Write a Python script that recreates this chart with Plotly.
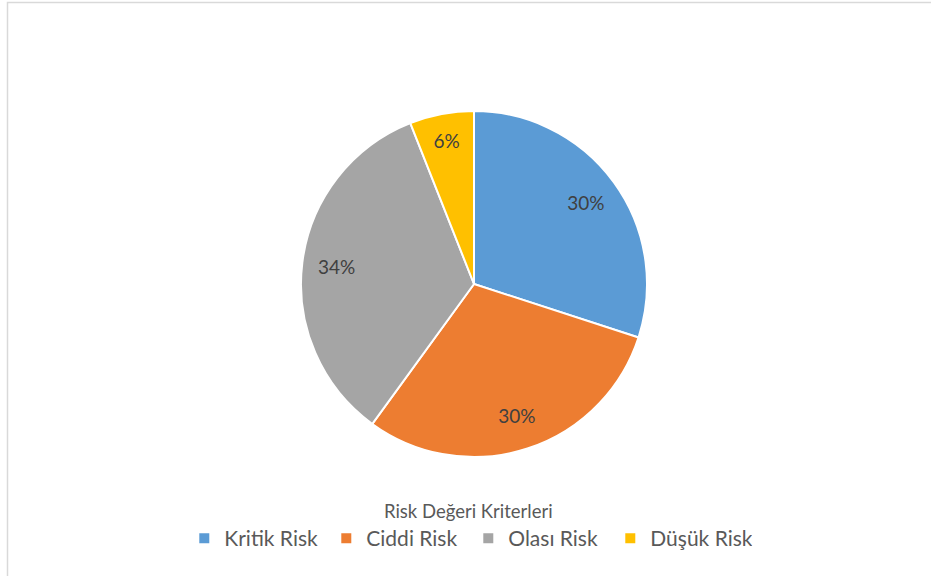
import plotly.graph_objects as go

categories = ["Kritik Risk", "Ciddi Risk", "Olası Risk", "Düşük Risk"]
values = [30, 30, 34, 6]
colors = ["#5B9BD5", "#ED7D31", "#A5A5A5", "#FFC000"]
legend_title = "Risk Değeri Kriterleri"

W, H = 931, 576
cx, cy, R = 474, 284, 173
dom = dict(x=[(cx - R) / W, (cx + R) / W], y=[1 - (cy + R) / H, 1 - (cy - R) / H])
FONT = "Lato, Open Sans, sans-serif"

fig = go.Figure()
fig.add_trace(go.Pie(
    labels=categories,
    values=values,
    sort=False,
    direction="clockwise",
    rotation=0,
    marker=dict(colors=colors, line=dict(color="white", width=2)),
    textinfo="none",
    domain=dom,
    hoverinfo="label+percent",
))
# transparent ring carrying the percentage labels further out, like the original
fig.add_trace(go.Pie(
    labels=categories,
    values=values,
    sort=False,
    direction="clockwise",
    rotation=0,
    hole=0.6,
    marker=dict(colors=["rgba(0,0,0,0)"] * len(values), line=dict(width=0)),
    texttemplate="%{percent:.0%}",
    textposition="inside",
    insidetextorientation="horizontal",
    textfont=dict(family=FONT, size=19, color="#404040"),
    domain=dom,
    showlegend=False,
    hoverinfo="skip",
))

fig.update_layout(
    width=W, height=H,
    margin=dict(l=0, r=0, t=0, b=0),
    paper_bgcolor="white",
    plot_bgcolor="white",
    showlegend=True,
    legend=dict(
        orientation="h",
        x=0.503, xanchor="center",
        y=1 - 494 / H, yanchor="top",
        title=dict(text=legend_title, side="top center",
                   font=dict(family=FONT, size=18.5, color="#595959")),
        font=dict(family=FONT, size=21, color="#595959"),
        itemwidth=30,
        entrywidth=97,
        entrywidthmode="pixels",
        tracegroupgap=0,
        traceorder="normal",
    ),
    shapes=[dict(type="rect", xref="paper", yref="paper",
                 x0=7.5 / W, x1=1.2, y0=-0.2, y1=1 - 2.5 / H,
                 line=dict(color="#D9D9D9", width=1.5))],
)

fig.write_html("out.html")
